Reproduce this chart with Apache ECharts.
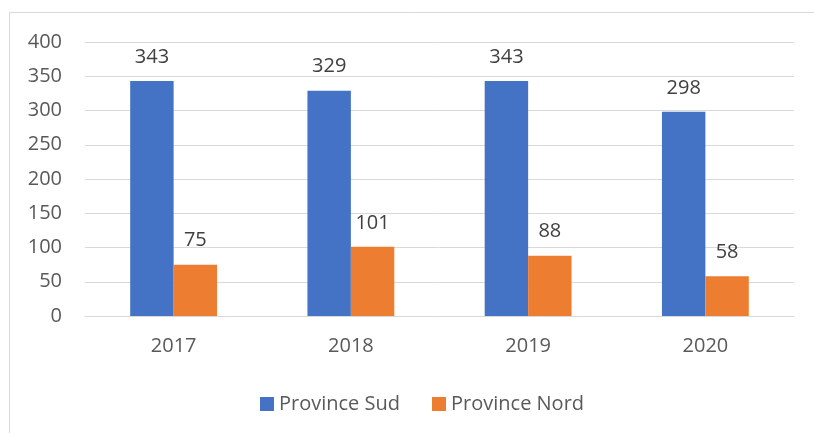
<!DOCTYPE html>
<html lang="fr">
<head>
    <meta charset="UTF-8">
    <title>Province Sud / Province Nord</title>
    <style>
        html, body { margin: 0; padding: 0; background: #fff; }
        #main { width: 814px; height: 433px; }
    </style>
</head>
<body>
<div id="main"></div>
<script src="https://cdn.jsdelivr.net/npm/echarts@6/dist/echarts.min.js"></script>
<script>
    // données
    var years = ['2017', '2018', '2019', '2020'];
    var sud = [343, 329, 343, 298];
    var nord = [75, 101, 88, 58];
    var seriesNames = ['Province Sud', 'Province Nord'];
    var yTicks = { min: 0, max: 400, interval: 50 };

    var font = '"Open Sans", Lato, sans-serif';
    var chart = echarts.init(document.getElementById('main'));

    var labelStyle = {
        show: true,
        position: 'top',
        distance: 14,
        color: '#404040',
        fontFamily: font,
        fontSize: 20
    };

    chart.setOption({
        animation: false,
        textStyle: { fontFamily: font },
        graphic: [{
            type: 'rect',
            shape: { x: 9.5, y: 12.5, width: 820, height: 440 },
            style: { fill: 'none', stroke: '#d9d9d9', lineWidth: 1 },
            silent: true
        }],
        grid: { left: 85, right: 20, top: 42, bottom: 117 },
        legend: {
            data: seriesNames,
            left: 255,
            top: 389,
            itemWidth: 14,
            itemHeight: 14,
            itemGap: 32,
            icon: 'rect',
            textStyle: { color: '#595959', fontSize: 20, fontFamily: font }
        },
        xAxis: {
            type: 'category',
            data: years,
            axisTick: { show: false },
            axisLine: { lineStyle: { color: '#d9d9d9', width: 1 } },
            axisLabel: { color: '#595959', fontSize: 20, fontFamily: font, margin: 20 }
        },
        yAxis: {
            type: 'value',
            min: yTicks.min,
            max: yTicks.max,
            interval: yTicks.interval,
            axisLine: { show: false },
            axisTick: { show: false },
            splitLine: { lineStyle: { color: '#d9d9d9', width: 1 } },
            axisLabel: { color: '#595959', fontSize: 20, fontFamily: font, margin: 23 }
        },
        series: [
            {
                name: seriesNames[0],
                type: 'bar',
                data: sud,
                barGap: '0%',
                barCategoryGap: '51%',
                itemStyle: { color: '#4472c4' },
                label: labelStyle
            },
            {
                name: seriesNames[1],
                type: 'bar',
                data: nord,
                itemStyle: { color: '#ed7d31' },
                label: labelStyle
            }
        ]
    });
</script>
</body>
</html>
